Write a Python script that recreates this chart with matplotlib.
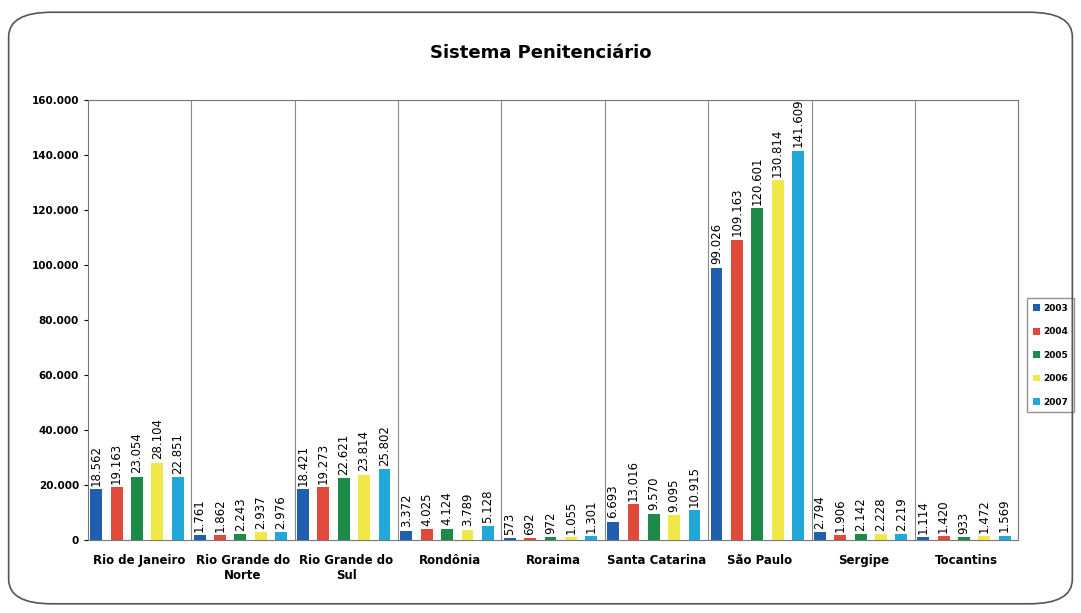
import matplotlib.pyplot as plt
from matplotlib.patches import FancyBboxPatch
import numpy as np

# Data
estados = ['Rio de Janeiro', 'Rio Grande do\nNorte', 'Rio Grande do\nSul', 'Rondônia',
           'Roraima', 'Santa Catarina', 'São Paulo', 'Sergipe', 'Tocantins']
anos = ['2003', '2004', '2005', '2006', '2007']
v2003 = [18562, 1761, 18421, 3372, 573, 6693, 99026, 2794, 1114]
v2004 = [19163, 1862, 19273, 4025, 692, 13016, 109163, 1906, 1420]
v2005 = [23054, 2243, 22621, 4124, 972, 9570, 120601, 2142, 933]
v2006 = [28104, 2937, 23814, 3789, 1055, 9095, 130814, 2228, 1472]
v2007 = [22851, 2976, 25802, 5128, 1301, 10915, 141609, 2219, 1569]
cores = ['#1f5fae', '#e04a3a', '#1e8a4a', '#efe848', '#22a8d8']

series = [v2003, v2004, v2005, v2006, v2007]


def fmt(v):
    return f'{v:,}'.replace(',', '.')


fig = plt.figure(figsize=(10.81, 6.13), dpi=100)

# Rounded border around the chart area
border = FancyBboxPatch((0.008, 0.015), 0.984, 0.965, boxstyle='round,pad=0,rounding_size=0.04',
                        transform=fig.transFigure, fill=False, edgecolor='#555555', linewidth=1.2)
fig.patches.append(border)

ax = fig.add_axes([0.0814, 0.119, 0.8606, 0.718])

x = np.arange(len(estados))
step = 0.197
width = 0.115
for i, (vals, ano, cor) in enumerate(zip(series, anos, cores)):
    pos = x - 0.42 + i * step
    ax.bar(pos, vals, width=width, color=cor, label=ano, zorder=3)
    for p, v in zip(pos, vals):
        ax.text(p, v + 1200, fmt(v), rotation=90, ha='center', va='bottom', fontsize=8.5)

ax.set_xlim(-0.5, len(estados) - 0.5)
ax.set_ylim(0, 160000)
ax.set_yticks(np.arange(0, 160001, 20000))
ax.set_yticklabels([fmt(t) for t in range(0, 160001, 20000)], fontsize=7.5, fontweight='bold')
ax.set_xticks(x)
ax.set_xticklabels(estados, fontsize=8.5, fontweight='bold')
ax.tick_params(axis='x', length=0, pad=10)
ax.tick_params(axis='y', length=3)

# Vertical separators between categories
for b in np.arange(0.5, len(estados) - 0.5):
    ax.axvline(b, color='#888888', linewidth=0.8, zorder=1)
for s in ax.spines.values():
    s.set_color('#777777')

fig.text(0.5, 0.905, 'Sistema Penitenciário', ha='center', fontsize=13, fontweight='bold')

leg = ax.legend(loc='center left', bbox_to_anchor=(1.005, 0.42),
                prop={'weight': 'bold', 'size': 6.5}, handlelength=0.8, handleheight=0.8,
                handletextpad=0.4, labelspacing=1.6, borderpad=0.6, fancybox=False,
                edgecolor='#777777')

fig.savefig('out.png', dpi=100)
